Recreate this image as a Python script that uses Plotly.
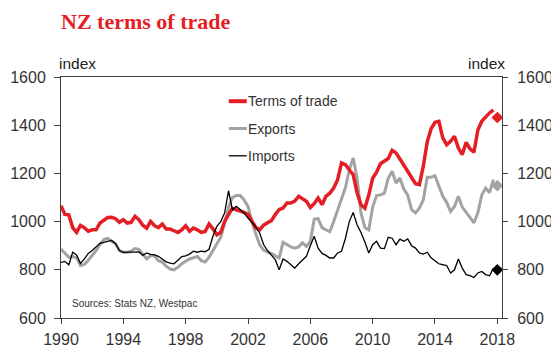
import plotly.graph_objects as go

start_year = 1990
# Quarterly index values, 1990Q1 .. 2017Q4
terms_of_trade = [
    1066, 1030, 1028, 975, 955, 984, 975, 960, 966, 966, 994, 1004, 1017, 1018, 1012, 997,
    1008, 994, 997, 1022, 1008, 985, 973, 1001, 983, 975, 990, 969, 969, 962, 955, 966,
    983, 960, 973, 966, 955, 959, 990, 970, 945, 955, 1001, 1029, 1056, 1049, 1045, 1038,
    1030, 1000, 975, 966, 985, 995, 1004, 1029, 1050, 1056, 1077, 1077, 1085, 1105, 1094, 1084,
    1059, 1075, 1098, 1070, 1105, 1118, 1139, 1174, 1243, 1236, 1215, 1195, 1120, 1070, 1056, 1110,
    1180, 1205, 1240, 1250, 1262, 1296, 1285, 1260, 1235, 1210, 1180, 1157, 1153, 1230, 1330, 1385,
    1412, 1416, 1347, 1319, 1333, 1354, 1305, 1278, 1329, 1302, 1288, 1380, 1416, 1434, 1451, 1464,
]
exports = [
    886, 870, 852, 855, 850, 818, 822, 840, 858, 880, 905, 925, 930, 920, 908, 880,
    873, 873, 877, 888, 885, 865, 845, 859, 858, 838, 832, 815, 803, 800, 810, 825,
    836, 845, 850, 855, 838, 832, 852, 880, 904, 935, 994, 1060, 1100, 1108, 1108, 1090,
    1063, 1000, 950, 904, 882, 873, 868, 860, 849, 914, 905, 895, 890, 895, 912, 897,
    918, 1010, 1012, 975, 966, 958, 1000, 1050, 1091, 1140, 1215, 1264, 1180, 1036, 975, 966,
    1060, 1108, 1111, 1118, 1180, 1209, 1160, 1181, 1135, 1110, 1050, 1036, 1056, 1090, 1184, 1184,
    1190, 1150, 1105, 1080, 1042, 1063, 1105, 1060, 1038, 1018, 995, 1036, 1110, 1139, 1120, 1174,
]
imports = [
    831, 835, 821, 873, 862, 826, 845, 868, 880, 897, 910, 914, 918, 922, 908, 880,
    872, 871, 873, 873, 874, 860, 870, 864, 862, 856, 845, 833, 828, 825, 840, 855,
    858, 865, 877, 873, 877, 875, 885, 939, 980, 1000, 1036, 1128, 1049, 1063, 1050, 1035,
    1015, 995, 978, 953, 905, 880, 860, 842, 800, 845, 835, 820, 807, 825, 840, 856,
    900, 939, 890, 868, 860, 849, 849, 870, 877, 930, 1000, 1038, 987, 955, 915, 870,
    904, 918, 890, 888, 935, 931, 904, 927, 918, 928, 900, 890, 870, 865, 873, 850,
    838, 825, 821, 818, 787, 800, 845, 807, 780, 776, 768, 787, 793, 780, 775, 807,
]
# Forecast points (2018)
forecast_year = [2018]
tot_forecast = [1432]
exports_forecast = [1149]
imports_forecast = [800]

x_ticks = [1990, 1994, 1998, 2002, 2006, 2010, 2014, 2018]
y_ticks = [600, 800, 1000, 1200, 1400, 1600]

years = [start_year + i / 4 for i in range(len(terms_of_trade))]

RED = "#E41E25"
GREY = "#A3A3A3"
BLACK = "#000000"
TXT = "#333333"

# page has an 8px body margin; figure coordinates = page coordinates - 8
OFF = 8
W, H = 559 - OFF, 364 - OFF
PL, PR, PT, PB = 61 - OFF, 502.5 - OFF, 77.3 - OFF, 318.3 - OFF

fig = go.Figure()
fig.add_trace(go.Scatter(x=years, y=exports, mode="lines", line=dict(color=GREY, width=3), name="Exports"))
fig.add_trace(go.Scatter(x=years, y=terms_of_trade, mode="lines", line=dict(color=RED, width=3.5), name="Terms of trade"))
fig.add_trace(go.Scatter(x=years, y=imports, mode="lines", line=dict(color=BLACK, width=1.3), name="Imports"))
fig.add_trace(go.Scatter(x=forecast_year, y=tot_forecast, mode="markers",
                         marker=dict(symbol="diamond", color=RED, size=9), showlegend=False))
fig.add_trace(go.Scatter(x=forecast_year, y=exports_forecast, mode="markers",
                         marker=dict(symbol="diamond", color=GREY, size=9), showlegend=False))
fig.add_trace(go.Scatter(x=forecast_year, y=imports_forecast, mode="markers",
                         marker=dict(symbol="diamond", color=BLACK, size=9), showlegend=False))
# invisible trace to activate right axis
fig.add_trace(go.Scatter(x=forecast_year, y=imports_forecast, yaxis="y2", mode="markers",
                         marker=dict(opacity=0), showlegend=False, hoverinfo="skip"))

axis_font = dict(family="Liberation Sans, Arial, sans-serif", size=16, color=TXT)

fig.update_layout(
    width=W, height=H,
    autosize=False,
    margin=dict(l=PL, r=W - PR, t=PT, b=H - PB, pad=0, autoexpand=False),
    paper_bgcolor="white", plot_bgcolor="white",
    showlegend=False,
    title=dict(text="<b>NZ terms of trade</b>", xref="container", yref="container",
               x=PL / W, xanchor="left", y=1 - (21 - OFF) / H, yanchor="middle",
               pad=dict(l=0, r=0, t=0, b=0), automargin=False,
               font=dict(family="Liberation Serif, Times New Roman, serif", size=22, color=RED)),
    xaxis=dict(range=[1990, 2018.3], tickvals=x_ticks, ticktext=[str(t) for t in x_ticks],
               showgrid=False, zeroline=False, showline=True, linecolor="#404040", linewidth=1,
               mirror=True, ticks="outside", ticklen=5, tickcolor="#404040", tickfont=axis_font,
               ticklabelstandoff=2, automargin=False),
    yaxis=dict(range=[600, 1600], tickvals=y_ticks, showgrid=False, zeroline=False,
               showline=True, linecolor="#404040", linewidth=1, ticks="outside", ticklen=6,
               tickcolor="#404040", tickfont=axis_font, ticklabelstandoff=5, automargin=False),
    yaxis2=dict(range=[600, 1600], tickvals=y_ticks, overlaying="y", side="right",
                showgrid=False, zeroline=False, showline=True, linecolor="#404040", linewidth=1,
                ticks="outside", ticklen=5, tickcolor="#404040", tickfont=axis_font,
                ticklabelstandoff=6, automargin=False),
)

# axis unit labels
fig.add_annotation(text="index", xref="paper", yref="paper", x=0, y=1.0, xanchor="left",
                   yanchor="bottom", xshift=-4, yshift=3, showarrow=False,
                   font=dict(family="Liberation Sans, Arial, sans-serif", size=15.5, color="#222222"))
fig.add_annotation(text="index", xref="paper", yref="paper", x=1, y=1.0, xanchor="right",
                   yanchor="bottom", xshift=5, yshift=3, showarrow=False,
                   font=dict(family="Liberation Sans, Arial, sans-serif", size=15.5, color="#222222"))
fig.add_annotation(text="Sources: Stats NZ, Westpac", xref="paper", yref="paper", x=0, y=0,
                   xanchor="left", yanchor="middle", xshift=9, yshift=15, showarrow=False,
                   font=dict(family="Liberation Sans, Arial, sans-serif", size=10, color=TXT))

# manual legend (positions given in page pixels)
legend_items = [("Terms of trade", RED, 4), ("Exports", GREY, 3), ("Imports", BLACK, 1.3)]
plot_w = PR - PL
plot_h = PB - PT
for i, (label, col, w) in enumerate(legend_items):
    ypx = 101.5 + 27.3 * i - OFF
    yp = 1 - (ypx - PT) / plot_h
    x0 = (229 - OFF - PL) / plot_w
    x1 = (247 - OFF - PL) / plot_w
    fig.add_shape(type="line", xref="paper", yref="paper", x0=x0, x1=x1, y0=yp, y1=yp,
                  line=dict(color=col, width=w))
    fig.add_annotation(text=label, xref="paper", yref="paper", x=x1, y=yp, xanchor="left",
                       yanchor="middle", showarrow=False, xshift=-1,
                       font=dict(family="Liberation Sans, Arial, sans-serif", size=14, color=TXT))

fig.write_html("out.html")
